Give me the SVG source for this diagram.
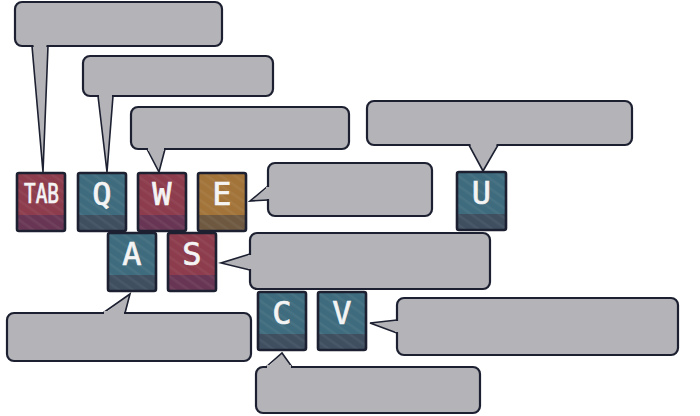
<svg xmlns="http://www.w3.org/2000/svg" width="700" height="416" viewBox="0 0 700 416">
<style>
.bx{fill:#b4b4b8;stroke:#1c2030;stroke-width:2.2}
.tf{fill:#b4b4b8;stroke:none}
.ts{fill:none;stroke:#1c2030;stroke-width:1.6;stroke-linejoin:miter}
.kb{fill:none;stroke:#1c2030;stroke-width:2.6}
.lt{font-family:"DejaVu Sans Mono",monospace;font-weight:normal;font-size:32px;fill:#f4f4f4;stroke:#f4f4f4;stroke-width:0.7;text-anchor:middle}
.red{fill:#8c3c4c}.redb{fill:#683654}
.tea{fill:#3e6b7d}.teab{fill:#3f4f60}
.ora{fill:#a2743a}.orab{fill:#6e5840}
.tx{fill:url(#tex)}
</style>
<defs>
<pattern id="tex" width="8" height="8" patternUnits="userSpaceOnUse" patternTransform="rotate(35)">
<rect width="8" height="2.5" fill="#ffffff" fill-opacity="0.05"/>
</pattern>
</defs>
<rect width="700" height="416" fill="#ffffff"/>

<g id="connectors">
<polygon class="tf" points="32,44 48,44 43,172"/><polyline class="ts" points="32,46 43,172 48,46"/>
<polygon class="tf" points="98,94 113,94 107,172"/><polyline class="ts" points="98,96 107,172 113,96"/>
<polygon class="tf" points="147,147 165,147 159,172"/><polyline class="ts" points="147,149 159,172 165,149"/>
<polygon class="tf" points="270,186 270,200 250,201"/><polyline class="ts" points="268,186 250,201 268,200"/>
<polygon class="tf" points="469,143 498,143 483,171"/><polyline class="ts" points="469,145 483,171 498,145"/>
<polygon class="tf" points="252,254 252,270 221,263"/><polyline class="ts" points="250,254 221,263 250,270"/>
<polygon class="tf" points="103,315 125,315 130,294"/><polyline class="ts" points="103,313 130,294 125,313"/>
<polygon class="tf" points="399,320 399,333 370,323"/><polyline class="ts" points="397,320 370,323 397,333"/>
<polygon class="tf" points="266,369 292,369 282,353"/><polyline class="ts" points="266,367 282,353 292,367"/>
</g>

<g id="callout-tab"><rect class="bx" x="15" y="2" width="207" height="44" rx="7"/></g>
<g id="callout-q"><rect class="bx" x="83" y="56" width="190" height="40" rx="7"/></g>
<g id="callout-w"><rect class="bx" x="131" y="107" width="218" height="42" rx="7"/></g>
<g id="callout-e"><rect class="bx" x="268" y="163" width="164" height="53" rx="7"/></g>
<g id="callout-u"><rect class="bx" x="367" y="101" width="265" height="44" rx="7"/></g>
<g id="callout-s"><rect class="bx" x="250" y="233" width="240" height="56" rx="7"/></g>
<g id="callout-a"><rect class="bx" x="7" y="313" width="244" height="48" rx="7"/></g>
<g id="callout-v"><rect class="bx" x="397" y="298" width="281" height="57" rx="7"/></g>
<g id="callout-c"><rect class="bx" x="256" y="367" width="224" height="46" rx="7"/></g>

<g id="tail-joins">
<polygon class="tf" points="33,43 47,43 46,48 34,48"/>
<polygon class="tf" points="99,93 112,93 112,98 99,98"/>
<polygon class="tf" points="148,146 164,146 164,151 148,151"/>
<polygon class="tf" points="266,187 271,187 271,199 266,199"/>
<polygon class="tf" points="470,142 497,142 496,147 471,147"/>
<polygon class="tf" points="248,255 253,255 253,269 248,269"/>
<polygon class="tf" points="104,311 124,311 124,316 104,316"/>
<polygon class="tf" points="395,321 400,321 400,332 395,332"/>
<polygon class="tf" points="267,365 291,365 291,370 267,370"/>
</g>

<g id="key-tab">
<rect class="red" x="17" y="173" width="48" height="58"/><rect class="redb" x="17" y="215" width="48" height="16"/><rect class="tx" x="17" y="173" width="48" height="58"/>
<rect class="kb" x="17" y="173" width="48" height="58" rx="2"/>
<text class="lt" x="41.5" y="203" textLength="35" lengthAdjust="spacingAndGlyphs" style="font-size:26px">TAB</text>
</g>
<g id="key-q">
<rect class="tea" x="78" y="173" width="48" height="58"/><rect class="teab" x="78" y="215" width="48" height="16"/><rect class="tx" x="78" y="173" width="48" height="58"/>
<rect class="kb" x="78" y="173" width="48" height="58" rx="2"/>
<text class="lt" x="102" y="205">Q</text>
</g>
<g id="key-w">
<rect class="red" x="138" y="173" width="48" height="58"/><rect class="redb" x="138" y="215" width="48" height="16"/><rect class="tx" x="138" y="173" width="48" height="58"/>
<rect class="kb" x="138" y="173" width="48" height="58" rx="2"/>
<text class="lt" x="162" y="205">W</text>
</g>
<g id="key-e">
<rect class="ora" x="198" y="173" width="48" height="58"/><rect class="orab" x="198" y="215" width="48" height="16"/><rect class="tx" x="198" y="173" width="48" height="58"/>
<rect class="kb" x="198" y="173" width="48" height="58" rx="2"/>
<text class="lt" x="222" y="205">E</text>
</g>
<g id="key-u">
<rect class="tea" x="457" y="172" width="49" height="58"/><rect class="teab" x="457" y="214" width="49" height="16"/><rect class="tx" x="457" y="172" width="49" height="58"/>
<rect class="kb" x="457" y="172" width="49" height="58" rx="2"/>
<text class="lt" x="481.5" y="204">U</text>
</g>
<g id="key-a">
<rect class="tea" x="108" y="233" width="48" height="58"/><rect class="teab" x="108" y="275" width="48" height="16"/><rect class="tx" x="108" y="233" width="48" height="58"/>
<rect class="kb" x="108" y="233" width="48" height="58" rx="2"/>
<text class="lt" x="132" y="265">A</text>
</g>
<g id="key-s">
<rect class="red" x="168" y="233" width="48" height="58"/><rect class="redb" x="168" y="275" width="48" height="16"/><rect class="tx" x="168" y="233" width="48" height="58"/>
<rect class="kb" x="168" y="233" width="48" height="58" rx="2"/>
<text class="lt" x="192" y="265">S</text>
</g>
<g id="key-c">
<rect class="tea" x="258" y="292" width="48" height="58"/><rect class="teab" x="258" y="334" width="48" height="16"/><rect class="tx" x="258" y="292" width="48" height="58"/>
<rect class="kb" x="258" y="292" width="48" height="58" rx="2"/>
<text class="lt" x="282" y="324">C</text>
</g>
<g id="key-v">
<rect class="tea" x="318" y="292" width="48" height="58"/><rect class="teab" x="318" y="334" width="48" height="16"/><rect class="tx" x="318" y="292" width="48" height="58"/>
<rect class="kb" x="318" y="292" width="48" height="58" rx="2"/>
<text class="lt" x="342" y="324">V</text>
</g>
</svg>
